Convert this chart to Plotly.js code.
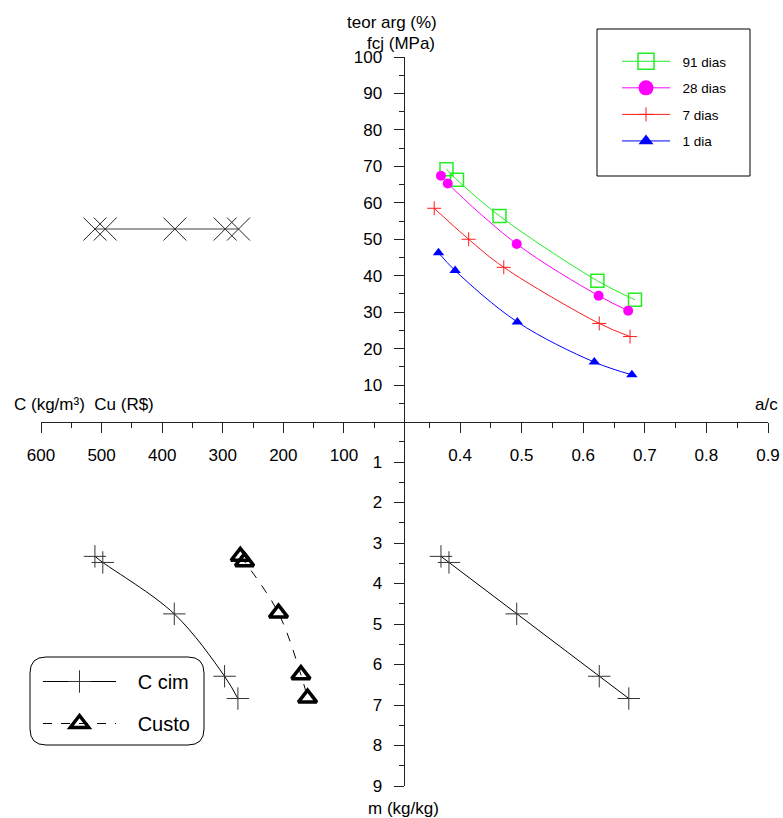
<!DOCTYPE html>
<html><head><meta charset="utf-8">
<script src="https://cdn.plot.ly/plotly-3.0.1.min.js"></script>
<style>html,body{margin:0;padding:0;background:#fff;}</style>
</head><body><div id="chart" style="width:783px;height:818px;"></div>
<script>
// ---- data ----
const legendNames = ["91 dias", "28 dias", "7 dias", "1 dia"];
const ac91 = [0.378, 0.395, 0.464, 0.623, 0.684];
const fc91 = [69.2, 66.3, 56.4, 38.6, 33.4];
const ac28 = [0.369, 0.380, 0.492, 0.625, 0.673];
const fc28 = [67.4, 65.3, 48.7, 34.5, 30.4];
const ac7  = [0.358, 0.414, 0.471, 0.626, 0.676];
const fc7  = [58.5, 50.0, 42.3, 26.9, 23.3];
const ac1  = [0.365, 0.392, 0.493, 0.618, 0.679];
const fc1  = [46.3, 41.4, 27.3, 16.3, 12.8];
const acM  = [0.369, 0.382, 0.492, 0.626, 0.674];
const mVals = [3.33, 3.48, 4.75, 6.29, 6.84];
const cCim = [511, 498, 380, 297, 275];
const custo = [271, 264, 208, 171, 160];
const mCusto = [3.33, 3.46, 4.73, 6.25, 6.83];
const cTeor = [511, 494, 379, 296, 274];
const teor = [52.8, 52.8, 52.8, 52.8, 52.8];
const legend2Names = ["C cim", "Custo"];
const fcTicks = [10, 20, 30, 40, 50, 60, 70, 80, 90, 100];
const mTicks = [1, 2, 3, 4, 5, 6, 7, 8, 9];
const cTicks = [600, 500, 400, 300, 200, 100];
const acTicks = [0.4, 0.5, 0.6, 0.7, 0.8, 0.9];

// ---- layout helpers (pixel -> paper) ----
const L = 41, R = 768, T = 57, B = 786;
const px = x => (x - L) / (R - L);
const py = y => (B - y) / (B - T);
const FONT = '"Liberation Sans", Arial, sans-serif';
const NB = '\u00a0';

function rr(x0, y0, x1, y1, r) {
  return `M${px(x0+r)},${py(y0)} L${px(x1-r)},${py(y0)} Q${px(x1)},${py(y0)} ${px(x1)},${py(y0+r)} ` +
         `L${px(x1)},${py(y1-r)} Q${px(x1)},${py(y1)} ${px(x1-r)},${py(y1)} L${px(x0+r)},${py(y1)} ` +
         `Q${px(x0)},${py(y1)} ${px(x0)},${py(y1-r)} L${px(x0)},${py(y0+r)} Q${px(x0)},${py(y0)} ${px(x0+r)},${py(y0)} Z`;
}

const green = '#22ee22', mag = '#ff00ff', red = '#ff1a1a', blue = '#0000ff';
const crossCol = '#333';

const styles = [
  {line: {color: green, width: 1, shape: 'spline'}, marker: {symbol: 'square-open', size: 13, color: green, line: {width: 1.5, color: green}},
   lmarker: {symbol: 'square-open', size: 16, color: green, line: {width: 1.5, color: green}}},
  {line: {color: mag, width: 1, shape: 'spline'}, marker: {symbol: 'circle', size: 10, color: mag},
   lmarker: {symbol: 'circle', size: 15, color: mag}},
  {line: {color: red, width: 1, shape: 'spline'}, marker: {symbol: 'cross-thin', size: 10, color: red, line: {width: 1, color: red}},
   lmarker: {symbol: 'cross-thin', size: 10, color: red, line: {width: 1, color: red}}},
  {line: {color: blue, width: 1, shape: 'spline'}, marker: {symbol: 'triangle-up', size: 10, color: blue},
   lmarker: {symbol: 'triangle-up', size: 13, color: blue}}
];
const series = [[ac91, fc91], [ac28, fc28], [ac7, fc7], [ac1, fc1]];

const traces = [];
series.forEach((s, i) => {
  traces.push({x: s[0], y: s[1], xaxis: 'x', yaxis: 'y', mode: 'lines+markers', showlegend: false,
    line: styles[i].line, marker: styles[i].marker});
});
// legend-only entries (larger symbols as in the reference legend)
series.forEach((s, i) => {
  traces.push({x: [null], y: [null], xaxis: 'x', yaxis: 'y', mode: 'lines+markers', name: NB + NB + legendNames[i],
    legend: 'legend', legendgroup: 'g' + i, line: {color: styles[i].line.color, width: 1}, marker: styles[i].lmarker});
});
const cimMarker = {symbol: 'cross-thin', size: 16, color: crossCol, line: {width: 1, color: crossCol}};
const custoMarker = {symbol: 'triangle-up-open', size: 16, color: '#000', line: {width: 3.5, color: '#000'}};
traces.push(
  // bottom-right: m vs a/c
  {x: acM, y: mVals, xaxis: 'x', yaxis: 'y2', mode: 'lines+markers', showlegend: false,
   line: {color: '#000', width: 1}, marker: cimMarker},
  // top-left: teor arg vs C
  {x: cTeor, y: teor, xaxis: 'x2', yaxis: 'y', mode: 'lines+markers', showlegend: false,
   line: {color: '#808080', width: 1.5}, marker: {symbol: 'x-thin', size: 23, color: '#222', line: {width: 1, color: '#222'}}},
  // bottom-left: C cim and Custo vs m
  {x: cCim, y: mVals, xaxis: 'x2', yaxis: 'y2', name: NB + NB + NB + legend2Names[0], mode: 'lines+markers', legend: 'legend2', legendgroup: 'e',
   line: {color: '#000', width: 1, shape: 'spline'}, marker: cimMarker},
  {x: custo, y: mCusto, xaxis: 'x2', yaxis: 'y2', name: NB + NB + NB + legend2Names[1], mode: 'lines+markers', legend: 'legend2', legendgroup: 'f',
   line: {color: '#000', width: 1, dash: 'dash', shape: 'spline'}, marker: custoMarker}
);

const axBase = {
  showgrid: false, zeroline: false, showline: true, linecolor: '#222', linewidth: 1,
  ticks: 'outside', ticklen: 10, tickwidth: 1, tickcolor: '#222',
  tickfont: {family: FONT, size: 17, color: '#000'}, ticklabelstandoff: 8, fixedrange: true
};
const minorBase = {ticks: 'outside', ticklen: 5, tickwidth: 1, tickcolor: '#222', showgrid: false};

const layout = {
  width: 783, height: 818,
  margin: {l: L, r: 783 - R, t: T, b: 818 - B, pad: 0},
  paper_bgcolor: '#fff', plot_bgcolor: 'rgba(0,0,0,0)',
  font: {family: FONT, size: 17, color: '#000'},
  xaxis: Object.assign({}, axBase, {domain: [0.5, 1], range: [0.3098, 0.9], anchor: 'y',
    tickvals: acTicks, ticktext: acTicks.map(v => v.toFixed(1)),
    minor: Object.assign({}, minorBase, {tickvals: [0.35, 0.45, 0.55, 0.65, 0.75, 0.85]})}),
  xaxis2: Object.assign({}, axBase, {domain: [0, 0.5], range: [600, 0], anchor: 'y',
    tickvals: cTicks, ticktext: cTicks.map(String),
    minor: Object.assign({}, minorBase, {tickvals: [550, 450, 350, 250, 150, 50]})}),
  yaxis: Object.assign({}, axBase, {domain: [0.5, 1], range: [0, 100], anchor: 'x',
    tickvals: fcTicks, ticktext: fcTicks.map(String),
    minor: Object.assign({}, minorBase, {tickvals: [5, 15, 25, 35, 45, 55, 65, 75, 85, 95]})}),
  yaxis2: Object.assign({}, axBase, {domain: [0, 0.5], range: [9, 0], anchor: 'x',
    tickvals: mTicks, ticktext: mTicks.map(String),
    minor: Object.assign({}, minorBase, {tickvals: [0.5, 1.5, 2.5, 3.5, 4.5, 5.5, 6.5, 7.5, 8.5]})}),
  legend: {x: px(617), y: py(46), xanchor: 'left', yanchor: 'top', bgcolor: 'rgba(0,0,0,0)', borderwidth: 0,
    font: {family: FONT, size: 13.5, color: '#000'}, traceorder: 'grouped', tracegroupgap: 6, itemwidth: 48},
  legend2: {x: px(38), y: py(662), xanchor: 'left', yanchor: 'top', bgcolor: 'rgba(0,0,0,0)', borderwidth: 0,
    font: {family: FONT, size: 20, color: '#000'}, traceorder: 'grouped', tracegroupgap: 13, itemwidth: 73},
  shapes: [
    {type: 'rect', xref: 'paper', yref: 'paper', x0: px(597), x1: px(750), y0: py(29), y1: py(176),
     line: {color: '#000', width: 1}, fillcolor: '#fff', layer: 'below'},
    {type: 'path', xref: 'paper', yref: 'paper', path: rr(30, 657, 204, 745, 16),
     line: {color: '#000', width: 1}, fillcolor: '#fff', layer: 'below'}
  ],
  annotations: [
    {text: 'teor arg (%)', xref: 'paper', yref: 'paper', x: px(392), y: py(23), xanchor: 'center', yanchor: 'middle', showarrow: false, font: {size: 17}},
    {text: 'fcj (MPa)', xref: 'paper', yref: 'paper', x: px(401), y: py(44), xanchor: 'center', yanchor: 'middle', showarrow: false, font: {size: 17}},
    {text: 'C (kg/m³)  Cu (R$)', xref: 'paper', yref: 'paper', x: px(12), y: py(404), xanchor: 'left', yanchor: 'middle', showarrow: false, font: {size: 17}},
    {text: 'a/c', xref: 'paper', yref: 'paper', x: px(780), y: py(404), xanchor: 'right', yanchor: 'middle', showarrow: false, font: {size: 17}},
    {text: 'm (kg/kg)', xref: 'paper', yref: 'paper', x: px(403), y: py(809), xanchor: 'center', yanchor: 'middle', showarrow: false, font: {size: 17}}
  ],
  showlegend: true
};

Plotly.newPlot('chart', traces, layout, {staticPlot: true, displayModeBar: false});
</script></body></html>
